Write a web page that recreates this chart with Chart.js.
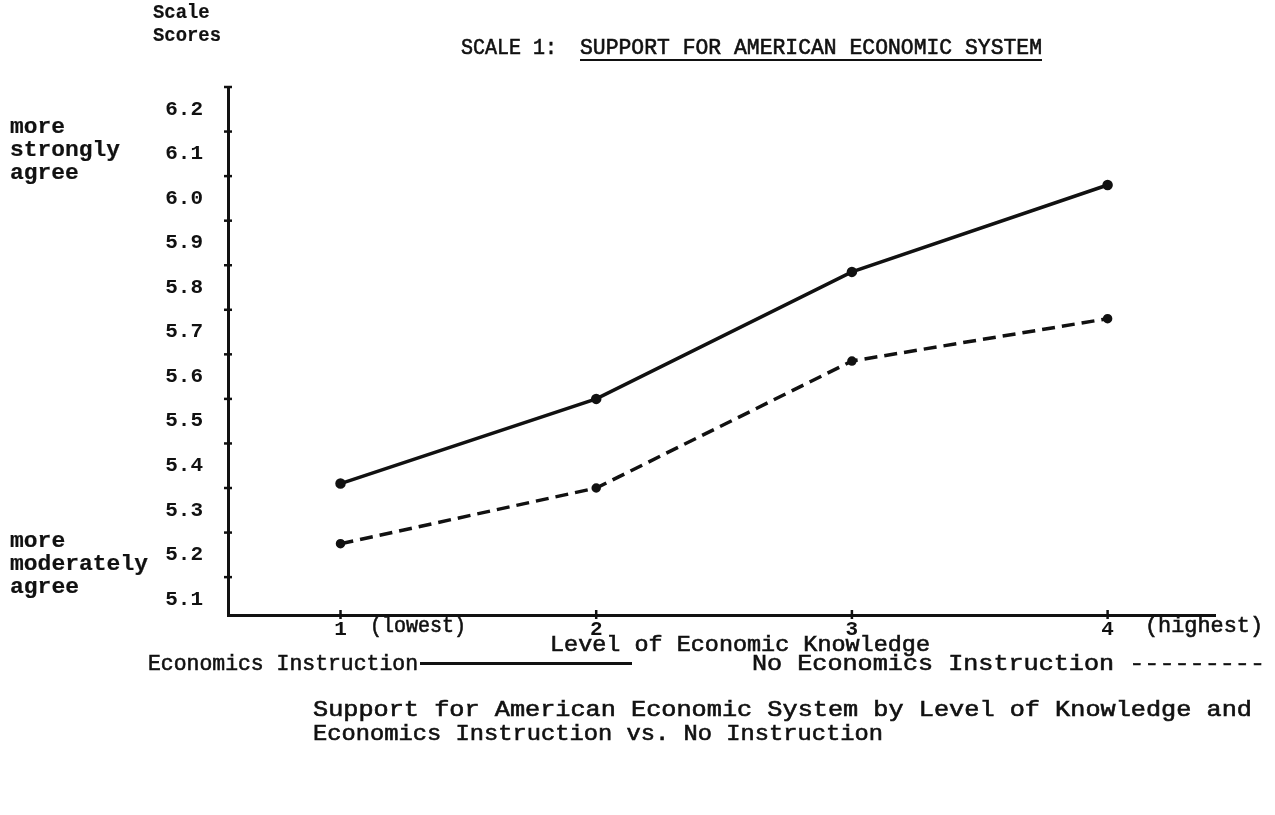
<!DOCTYPE html>
<html>
<head>
<meta charset="utf-8">
<script src="https://cdn.jsdelivr.net/npm/chart.js@4"></script>
<style>
body { margin: 0; background: #fff; }
#wrap { position: relative; width: 1275px; height: 815px; overflow: hidden; background: #fff; }
#c { position: absolute; left: 0; top: 0; }
.t { position: absolute; font-family: "Liberation Mono", monospace; font-size: 22px; line-height: 23px;
     color: #111; white-space: pre; transform-origin: 0 50%; -webkit-text-stroke: 0.6px #111; }
.b { font-weight: bold; -webkit-text-stroke: 0.2px #111; }
.u { text-decoration: underline; text-decoration-thickness: 2px; text-underline-offset: 5px; }
#legLine { position: absolute; left: 420px; top: 662px; width: 212px; height: 3px; background: #111; }
</style>
</head>
<body>
<div id="wrap">
  <canvas id="c" width="1275" height="815"></canvas>

  <div class="t b" style="left:153px;top:1px;font-size:20px;" data-w="68">Scale
Scores</div>
  <div class="t b" style="left:10px;top:116px;" data-w="110">more
strongly
agree</div>
  <div class="t b" style="left:10px;top:530px;" data-w="138">more
moderately
agree</div>

  <div class="t" style="left:461px;top:37px;" data-w="96">SCALE 1:</div>
  <div class="t u" style="left:580px;top:37px;" data-w="462">SUPPORT FOR AMERICAN ECONOMIC SYSTEM</div>

  <div class="t" style="left:370px;top:615px;" data-w="96">(lowest)</div>
  <div class="t" style="left:1145px;top:615px;" data-w="118">(highest)</div>
  <div class="t" style="left:550px;top:634px;" data-w="380">Level of Economic Knowledge</div>

  <div class="t" style="left:148px;top:653px;" data-w="270">Economics Instruction</div>
  <div id="legLine"></div>
  <div class="t" style="left:752px;top:653px;" data-w="513">No Economics Instruction ---------</div>

  <div class="t" style="left:313px;top:699px;" data-w="939">Support for American Economic System by Level of Knowledge and</div>
  <div class="t" style="left:313px;top:723px;" data-w="570">Economics Instruction vs. No Instruction</div>
</div>

<script>
var categories = [1, 2, 3, 4];
var withInstruction = [5.36, 5.55, 5.835, 6.03];
var noInstruction = [5.225, 5.35, 5.635, 5.73];
var yTickValues = [5.1, 5.2, 5.3, 5.4, 5.5, 5.6, 5.7, 5.8, 5.9, 6.0, 6.1, 6.2];
var yMarkValues = [5.15, 5.25, 5.35, 5.45, 5.55, 5.65, 5.75, 5.85, 5.95, 6.05, 6.15, 6.25];

function points(values) {
    return categories.map(function (c, i) { return { x: c, y: values[i] }; });
}

// little cross marks on both axes, like the typed original
var axisMarks = {
    id: 'axisMarks',
    afterDraw: function (chart) {
        var ctx = chart.ctx, xs = chart.scales.x, ys = chart.scales.y;
        ctx.save();
        ctx.strokeStyle = '#111';
        ctx.lineWidth = 2.5;
        yMarkValues.forEach(function (v) {
            var y = ys.getPixelForValue(v);
            ctx.beginPath(); ctx.moveTo(ys.right - 4, y); ctx.lineTo(ys.right + 4, y); ctx.stroke();
        });
        categories.forEach(function (v) {
            var x = xs.getPixelForValue(v);
            ctx.beginPath(); ctx.moveTo(x, xs.top - 5); ctx.lineTo(x, xs.top + 4); ctx.stroke();
        });
        ctx.restore();
    }
};

document.querySelectorAll('[data-w]').forEach(function (el) {
    var w = el.getBoundingClientRect().width;
    el.style.transform = 'scaleX(' + (el.dataset.w / w) + ')';
});

new Chart(document.getElementById('c'), {
    type: 'line',
    data: {
        datasets: [{
            label: 'Economics Instruction',
            data: points(withInstruction),
            borderColor: '#111',
            backgroundColor: '#111',
            borderWidth: 3.5,
            pointRadius: 3.5,
            tension: 0
        }, {
            label: 'No Economics Instruction',
            data: points(noInstruction),
            borderColor: '#111',
            backgroundColor: '#111',
            borderWidth: 3.5,
            borderDash: [13, 7],
            pointRadius: 3,
            tension: 0
        }]
    },
    options: {
        responsive: false,
        animation: false,
        layout: { padding: { top: 87, right: 60, left: 0, bottom: 0 } },
        plugins: { legend: { display: false }, tooltip: { enabled: false } },
        scales: {
            x: {
                type: 'linear',
                min: 0.56,
                max: 4.42,
                afterBuildTicks: function (s) { s.ticks = categories.map(function (v) { return { value: v }; }); },
                afterFit: function (s) { s.height = 200; },
                ticks: { font: { family: '"Liberation Mono", monospace', size: 21, weight: 'bold' }, color: '#111', padding: 2, maxRotation: 0 },
                grid: { display: false, tickLength: 0 },
                border: { display: true, color: '#111', width: 3 }
            },
            y: {
                type: 'linear',
                min: 5.065,
                max: 6.25,
                afterBuildTicks: function (s) { s.ticks = yTickValues.map(function (v) { return { value: v }; }); },
                afterFit: function (s) { s.width = 228; },
                ticks: {
                    font: { family: '"Liberation Mono", monospace', size: 21, weight: 'bold' },
                    color: '#111',
                    padding: 25,
                    callback: function (v) { return v.toFixed(1); }
                },
                grid: { display: false, tickLength: 0 },
                border: { display: true, color: '#111', width: 3 }
            }
        }
    },
    plugins: [axisMarks]
});
</script>
</body>
</html>
